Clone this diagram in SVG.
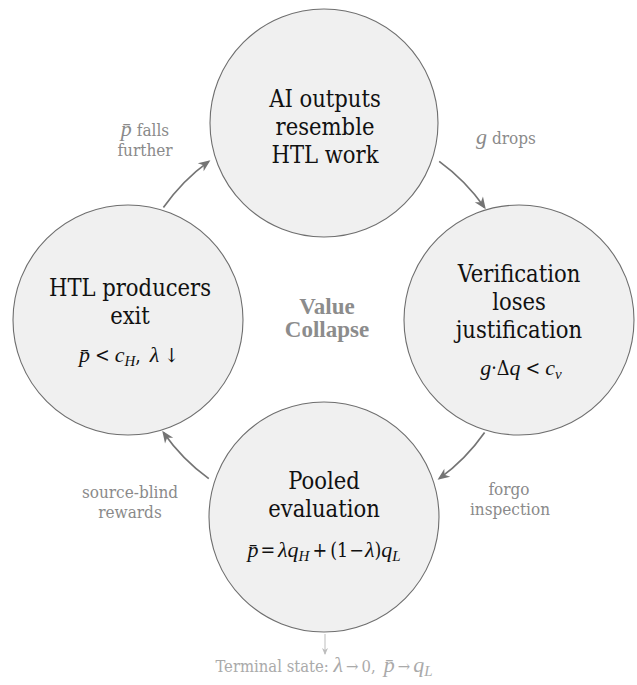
<svg xmlns="http://www.w3.org/2000/svg" width="637" height="685" viewBox="0 0 637 685">
<style>
text{font-family:'DejaVu Serif Condensed','DejaVu Serif',serif}
.node{fill:#f0f0f0;stroke:#6e6e6e;stroke-width:1.1}
.title{font-size:23.5px;fill:#111;text-anchor:middle}
.math{font-size:19.5px;fill:#111;text-anchor:middle}
.i{font-family:'Liberation Serif','DejaVu Serif',serif;font-style:italic;font-size:22px}
.s{font-family:'Liberation Serif','DejaVu Serif',serif;font-style:italic;font-size:15px}
.lbl{font-size:17px;fill:#8a8a8a;text-anchor:middle}
.center{font-family:'Liberation Serif','DejaVu Serif',serif;font-size:23px;font-weight:bold;fill:#8c8c8c;text-anchor:middle}
.term{font-size:16.5px;fill:#aaaaaa;text-anchor:middle}
.arc{fill:none;stroke:#747474;stroke-width:1.7;marker-end:url(#stealth)}
</style>
<defs>
<marker id="stealth" viewBox="-12 -6 15 12" markerWidth="15" markerHeight="12" refX="0" refY="0" orient="auto" markerUnits="userSpaceOnUse">
<path d="M2,0 L-10,-5 L-6.5,0 L-10,5 Z" fill="#747474"/>
</marker>
<marker id="small" viewBox="-8 -4 10 8" markerWidth="10" markerHeight="8" refX="0" refY="0" orient="auto" markerUnits="userSpaceOnUse">
<path d="M1,0 L-6,-3 L-4,0 L-6,3 Z" fill="#bdbdbd"/>
</marker>
</defs>

<g id="connectors">
<path class="arc" d="M439.2,161.4 A196,196 0 0 1 484.6,207.6"/>
<path class="arc" d="M484.6,432.4 A196,196 0 0 1 439.2,478.6"/>
<path class="arc" d="M208.8,478.6 A196,196 0 0 1 163.4,432.4"/>
<path class="arc" d="M163.4,207.6 A196,196 0 0 1 208.8,161.4"/>
<path d="M325,634 L325,654" fill="none" stroke="#bdbdbd" stroke-width="1" marker-end="url(#small)"/>
</g>

<g id="node-top">
<circle class="node" cx="324" cy="123" r="114"/>
<text class="title" x="325" y="107">AI outputs</text>
<text class="title" x="325" y="135">resemble</text>
<text class="title" x="325" y="163">HTL work</text>
</g>

<g id="node-right">
<circle class="node" cx="519" cy="320" r="115"/>
<text class="title" x="519" y="282">Verification</text>
<text class="title" x="519" y="310">loses</text>
<text class="title" x="519" y="338">justification</text>
<text class="math" x="521" y="375"><tspan class="i">g</tspan>·Δ<tspan class="i">q</tspan><tspan dx="5">&lt;</tspan><tspan class="i" dx="5">c</tspan><tspan class="s" dy="4">v</tspan></text>
</g>

<g id="node-bottom">
<circle class="node" cx="324" cy="517" r="115"/>
<text class="title" x="324" y="489">Pooled</text>
<text class="title" x="324" y="517">evaluation</text>
<text class="math" x="324" y="557"><tspan class="i">p̄</tspan><tspan dx="2">=</tspan><tspan class="i" dx="3">λq</tspan><tspan class="s" dy="4">H</tspan><tspan dy="-4" dx="3">+</tspan><tspan dx="3">(1</tspan><tspan dx="1">−</tspan><tspan class="i" dx="1">λ</tspan>)<tspan class="i">q</tspan><tspan class="s" dy="4">L</tspan></text>
</g>

<g id="node-left">
<circle class="node" cx="128" cy="320" r="115"/>
<text class="title" x="130" y="296">HTL producers</text>
<text class="title" x="130" y="324">exit</text>
<text class="math" x="129" y="362"><tspan class="i">p̄</tspan><tspan dx="5">&lt;</tspan><tspan class="i" dx="5">c</tspan><tspan class="s" dy="4">H</tspan><tspan dy="-4">,</tspan><tspan class="i" dx="9">λ</tspan><tspan dx="5">↓</tspan></text>
</g>

<g id="labels">
<text class="lbl" x="145" y="136"><tspan class="i" font-size="19px">p̄</tspan> falls</text>
<text class="lbl" x="145" y="156">further</text>
<text class="lbl" x="506" y="144"><tspan class="i" font-size="19px">g</tspan> drops</text>
<text class="lbl" x="130" y="498">source-blind</text>
<text class="lbl" x="130" y="518">rewards</text>
<text class="lbl" x="509" y="495">forgo</text>
<text class="lbl" x="510" y="515">inspection</text>
<text class="center" x="327" y="314">Value</text>
<text class="center" x="327" y="337">Collapse</text>
<text class="term" x="324" y="672">Terminal state: <tspan class="i" font-size="18px">λ</tspan><tspan dx="3">→</tspan><tspan dx="3">0,</tspan><tspan class="i" font-size="18px" dx="8">p̄</tspan><tspan dx="3">→</tspan><tspan class="i" font-size="18px" dx="3">q</tspan><tspan class="s" font-size="12.5px" dy="4">L</tspan></text>
</g>
</svg>
